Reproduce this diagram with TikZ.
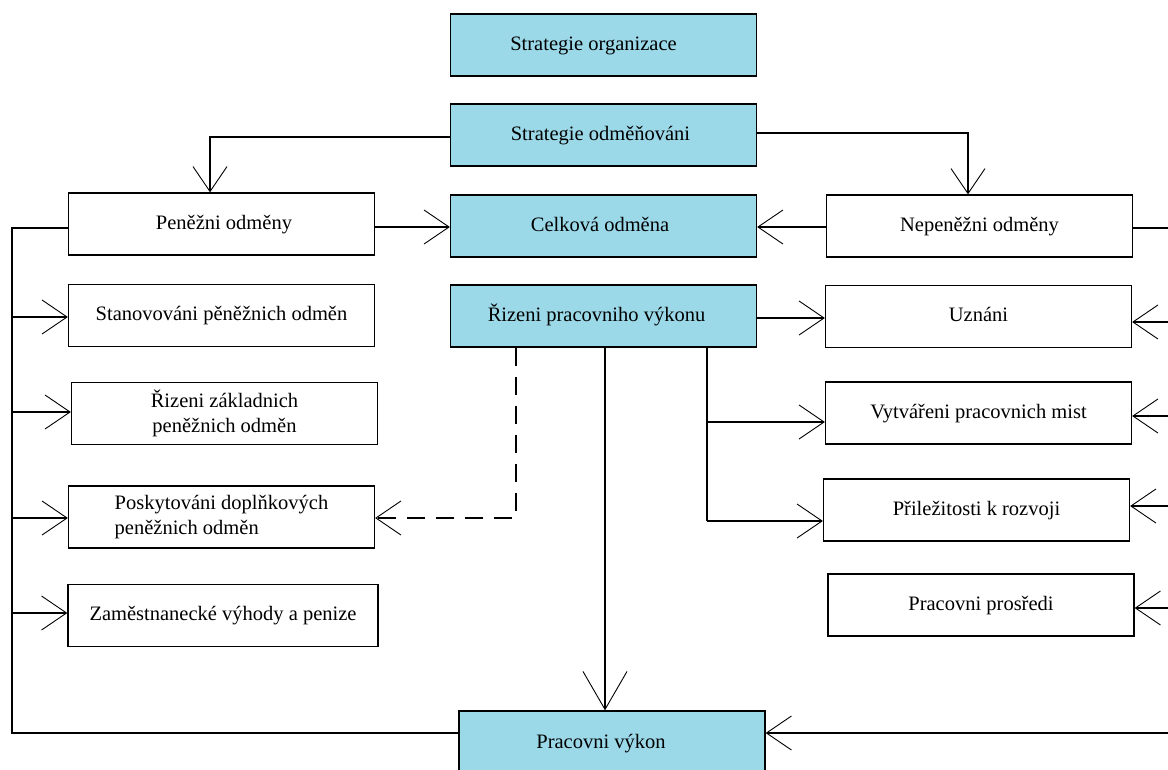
\documentclass[tikz,border=0pt]{standalone}
\usepackage{fontspec}
\setmainfont{Liberation Serif}
\usetikzlibrary{arrows.meta}
\definecolor{boxblue}{RGB}{155,217,233}
\tikzset{
  box/.style={draw=black, line width=1.3pt, minimum width=306pt, minimum height=62pt, inner sep=2pt, align=center,
    font=\fontsize{20.5}{25}\selectfont},
  onel/.style={text height=14pt, text depth=4pt},
  bluebox/.style={box, onel, fill=boxblue},
  conn/.style={draw=black, line width=1.2pt},
  arr/.style={conn, -{Straight Barb[length=25pt, width=34pt, line width=0.9pt]}},
  bigarr/.style={conn, -{Straight Barb[length=38pt, width=44pt, line width=0.9pt]}},
  dashconn/.style={arr, dash pattern=on 18pt off 11pt},
}
\begin{document}
\begin{tikzpicture}[x=1pt, y=1pt]
\useasboundingbox (0,0) rectangle (1168,-769);
\clip (0,0) rectangle (1168,-769);
\fill[white] (0,0) rectangle (1168,-769);
% central column
\node[bluebox] (so)  at (603.5,-45)  {\hspace*{-20pt}Strategie organizace};
\node[bluebox] (sod) at (603.5,-135) {\hspace*{-6pt}Strategie odměňováni};
\node[bluebox] (co)  at (603.5,-226) {\hspace*{-7pt}Celková odměna};
\node[bluebox] (rpv) at (603.5,-316) {\hspace*{-14pt}Řizeni pracovniho výkonu};
\node[bluebox, minimum height=64pt] (pv) at (612,-743) {\hspace*{-22pt}Pracovni výkon};
% left column
\node[box, onel] (pen) at (221.5,-224)   {\hspace*{5pt}Peněžni odměny};
\node[box, onel] (sta) at (221.5,-315.5) {Stanovováni pěněžnich odměn};
\node[box] (rz)  at (224.5,-413.5) {Řizeni základnich\\peněžnich odměn};
\node[box, align=left] (pos) at (221.5,-517) {Poskytováni doplňkových\\peněžnich odměn};
\node[box, onel, minimum width=310pt] (zam) at (223,-615.5) {Zaměstnanecké výhody a penize};
% right column
\node[box, onel] (nep) at (979.5,-226) {Nepeněžni odměny};
\node[box, onel] (uz)  at (978.5,-316.5) {Uznáni};
\node[box, onel] (vyt) at (978.5,-413) {Vytvářeni pracovnich mist};
\node[box, onel] (pri) at (976.5,-510) {Přiležitosti k rozvoji};
\node[box, onel] (pro) at (981,-605) {Pracovni prosředi};
% coordinates
\coordinate (lb1) at (12,-228);
\coordinate (lb2) at (12,-733);
\coordinate (l1) at (12,-317);
\coordinate (l2) at (12,-412);
\coordinate (l3) at (12,-518);
\coordinate (l4) at (12,-613);
\coordinate (r0) at (1168,-228);
\coordinate (r1) at (1168,-322);
\coordinate (r2) at (1168,-416);
\coordinate (r3) at (1168,-506);
\coordinate (r4) at (1168,-608);
\coordinate (r5) at (1168,-733);
\coordinate (sl) at (210,-137);
\coordinate (sr) at (968,-133);
\coordinate (m1) at (707,-422);
\coordinate (m2) at (707,-521);
\coordinate (d1) at (516,-518);
% strategy branches
\draw[arr] (sod.west |- sl) -- (sl) -- (sl |- pen.north);
\draw[arr] (sod.east |- sr) -- (sr) -- (sr |- nep.north);
% into total reward
\draw[arr] (pen.east |- 0,-227) -- (co.west |- 0,-227);
\draw[arr] (nep.west |- 0,-227) -- (co.east |- 0,-227);
% left bus
\draw[conn] (pen.west |- lb1) -- (lb1) -- (lb2) -- (pv.west |- lb2);
\draw[arr] (l1) -- (sta.west |- l1);
\draw[arr] (l2) -- (rz.west |- l2);
\draw[arr] (l3) -- (pos.west |- l3);
\draw[arr] (l4) -- (zam.west |- l4);
% right bus
\draw[conn] (nep.east |- r0) -- (r0);
\draw[arr] (r1) -- (uz.east |- r1);
\draw[arr] (r2) -- (vyt.east |- r2);
\draw[arr] (r3) -- (pri.east |- r3);
\draw[arr] (r4) -- (pro.east |- r4);
\draw[arr] (r5) -- (pv.east |- r5);
% performance management
\draw[arr] (rpv.east |- 0,-318) -- (uz.west |- 0,-318);
\draw[conn] (rpv.south -| m1) -- (m2);
\draw[arr] (m1) -- (vyt.west |- m1);
\draw[arr] (m2) -- (pri.west |- m2);
\draw[bigarr] (rpv.south -| 605,0) -- (pv.north -| 605,0);
\draw[dashconn] (rpv.south -| d1) -- (d1) -- (pos.east |- d1);
\end{tikzpicture}
\end{document}
